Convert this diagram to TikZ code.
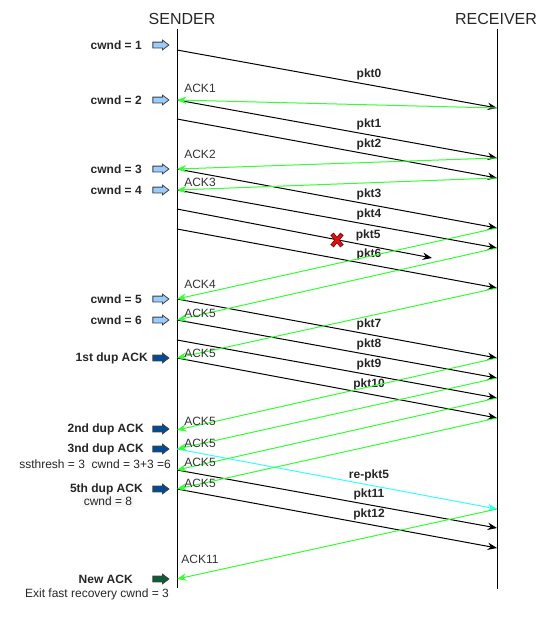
\documentclass[tikz,border=0pt]{standalone}
\usepackage{fontspec}
\setmainfont{Liberation Sans}
\usetikzlibrary{arrows.meta,shapes.arrows}
\definecolor{ackgreen}{HTML}{33FF33}
\definecolor{resendcyan}{HTML}{33FFFF}
\definecolor{slowblue}{HTML}{99CCFF}
\definecolor{dupblue}{HTML}{004C99}
\definecolor{newgreen}{HTML}{0B5E35}
\definecolor{lostred}{HTML}{E01010}

\begin{document}
\begin{tikzpicture}[x=0.75pt, y=-0.75pt,
  pkt/.style={draw=black, line width=0.75pt, -{Stealth[length=7pt,width=5.5pt]}},
  ack/.style={draw=ackgreen, line width=0.75pt, -{Stealth[length=7pt,width=5.5pt]}},
  resend/.style={draw=resendcyan, line width=0.75pt, -{Stealth[length=7pt,width=5.5pt]}},
  pktlabel/.style={font=\bfseries\fontsize{9}{10}\selectfont, text=black!85, above=2pt, inner sep=1pt, pos=0.6},
  acklabel/.style={font=\fontsize{9}{10}\selectfont, text=black!80, inner sep=0pt},
  cwndlabel/.style={font=\bfseries\fontsize{9}{10}\selectfont, text=black!85, anchor=east, inner sep=0pt},
  notelabel/.style={font=\fontsize{9}{10}\selectfont, text=black!85, inner sep=0pt},
  icon/.style={shape=single arrow, fill=#1, draw=black!75, line width=0.6pt, minimum height=12pt,
    minimum width=0pt, inner xsep=0pt, inner ysep=1.875pt, single arrow head extend=1.5pt,
    single arrow tip angle=75, outer sep=0pt, node contents=},
]
\useasboundingbox (0,0) rectangle (557,625);

%lifelines
\node[font=\fontsize{12}{14}\selectfont, text=black!85] (sender) at (182,19) {SENDER};
\node[font=\fontsize{12}{14}\selectfont, text=black!85] (receiver) at (496,19) {RECEIVER};
\draw[line width=0.75pt] (177,29) -- (177,588);
\draw[line width=0.75pt] (497,29) -- (497,589);

\foreach \y in {50,100,119,169,190,209,229,299,320,340,358,430,449,470,489,579}
  \coordinate (s\y) at (177,\y);
\foreach \y in {108,158,178,228,248,288,358,378,398,418,509,528,548}
  \coordinate (r\y) at (497,\y);
\coordinate (lost) at (432,258);

%packets
\draw[pkt] (s50) -- node[pktlabel] (p0) {pkt0} (r108);
\draw[pkt] (s100) -- node[pktlabel] (p1) {pkt1} (r158);
\draw[pkt] (s119) -- node[pktlabel] (p2) {pkt2} (r178);
\draw[pkt] (s169) -- node[pktlabel] (p3) {pkt3} (r228);
\draw[pkt] (s190) -- node[pktlabel] (p4) {pkt4} (r248);
\draw[pkt] (s209) -- node[pktlabel, pos=0.75] (p5) {pkt5} (lost);
\draw[pkt] (s229) -- node[pktlabel] (p6) {pkt6} (r288);
\draw[pkt] (s299) -- node[pktlabel] (p7) {pkt7} (r358);
\draw[pkt] (s320) -- node[pktlabel] (p8) {pkt8} (r378);
\draw[pkt] (s340) -- node[pktlabel] (p9) {pkt9} (r398);
\draw[pkt] (s358) -- node[pktlabel] (p10) {pkt10} (r418);
\draw[resend] (s449) -- node[pktlabel] (rp5) {re-pkt5} (r509);
\draw[pkt] (s470) -- node[pktlabel] (p11) {pkt11} (r528);
\draw[pkt] (s489) -- node[pktlabel] (p12) {pkt12} (r548);

%lost
\draw[line width=3.2pt, draw=lostred!55!black] (332,234) -- (342,246) (342,234) -- (332,246);
\draw[line width=2pt, draw=lostred] (332.6,234.7) -- (341.4,245.3) (341.4,234.7) -- (332.6,245.3);

%acks
\draw[ack] (r108) -- (s100);
\draw[ack] (r158) -- (s169);
\draw[ack] (r178) -- (s190);
\draw[ack] (r228) -- (s299);
\draw[ack] (r248) -- (s320);
\draw[ack] (r288) -- (s358);
\draw[ack] (r358) -- (s430);
\draw[ack] (r378) -- (s449);
\draw[ack] (r398) -- (s470);
\draw[ack] (r418) -- (s489);
\draw[ack] (r509) -- (s579);

\node[acklabel] (a1) at (200,88) {ACK1};
\node[acklabel] (a2) at (200,154) {ACK2};
\node[acklabel] (a3) at (200,182) {ACK3};
\node[acklabel] (a4) at (200,284) {ACK4};
\node[acklabel] (a5) at (200,313) {ACK5};
\node[acklabel] (d1) at (200,353) {ACK5};
\node[acklabel] (d2) at (200,421) {ACK5};
\node[acklabel] (d3) at (200,443) {ACK5};
\node[acklabel] (d4) at (200,462) {ACK5};
\node[acklabel] (d5) at (200,483) {ACK5};
\node[acklabel] (a11) at (200,559) {ACK11};

%sender state
\node (i1) at (159,45) [icon=slowblue];
\node (i2) at (159,100) [icon=slowblue];
\node (i3) at (159,169) [icon=slowblue];
\node (i4) at (159,190) [icon=slowblue];
\node (i5) at (159,299) [icon=slowblue];
\node (i6) at (159,320) [icon=slowblue];
\node (i7) at (159,358) [icon=dupblue];
\node (i8) at (159,429) [icon=dupblue];
\node (i9) at (159,449) [icon=dupblue];
\node (i10) at (159,489) [icon=dupblue];
\node (i11) at (159,579) [icon=newgreen];

\node[cwndlabel] (c1) at (142,45) {cwnd = 1};
\node[cwndlabel] (c2) at (142,100) {cwnd = 2};
\node[cwndlabel] (c3) at (142,169) {cwnd = 3};
\node[cwndlabel] (c4) at (142,190) {cwnd = 4};
\node[cwndlabel] (c5) at (142,299) {cwnd = 5};
\node[cwndlabel] (c6) at (142,320) {cwnd = 6};
\node[cwndlabel] (c7) at (148,358) {1st dup ACK};
\node[cwndlabel] (c8) at (144,429) {2nd dup ACK};
\node[cwndlabel] (c9) at (144,449) {3nd dup ACK};
\node[notelabel, anchor=east] (n1) at (171,464) {ssthresh = 3\ \ cwnd = 3+3 =6};
\node[cwndlabel] (c10) at (143,489) {5th dup ACK};
\node[notelabel, fill=black!3, inner sep=1pt] (n2) at (108,501) {cwnd = 8};
\node[cwndlabel] (c11) at (133,579) {New ACK};
\node[notelabel] (n3) at (97,594) {Exit fast recovery cwnd = 3};

\end{tikzpicture}
\end{document}
